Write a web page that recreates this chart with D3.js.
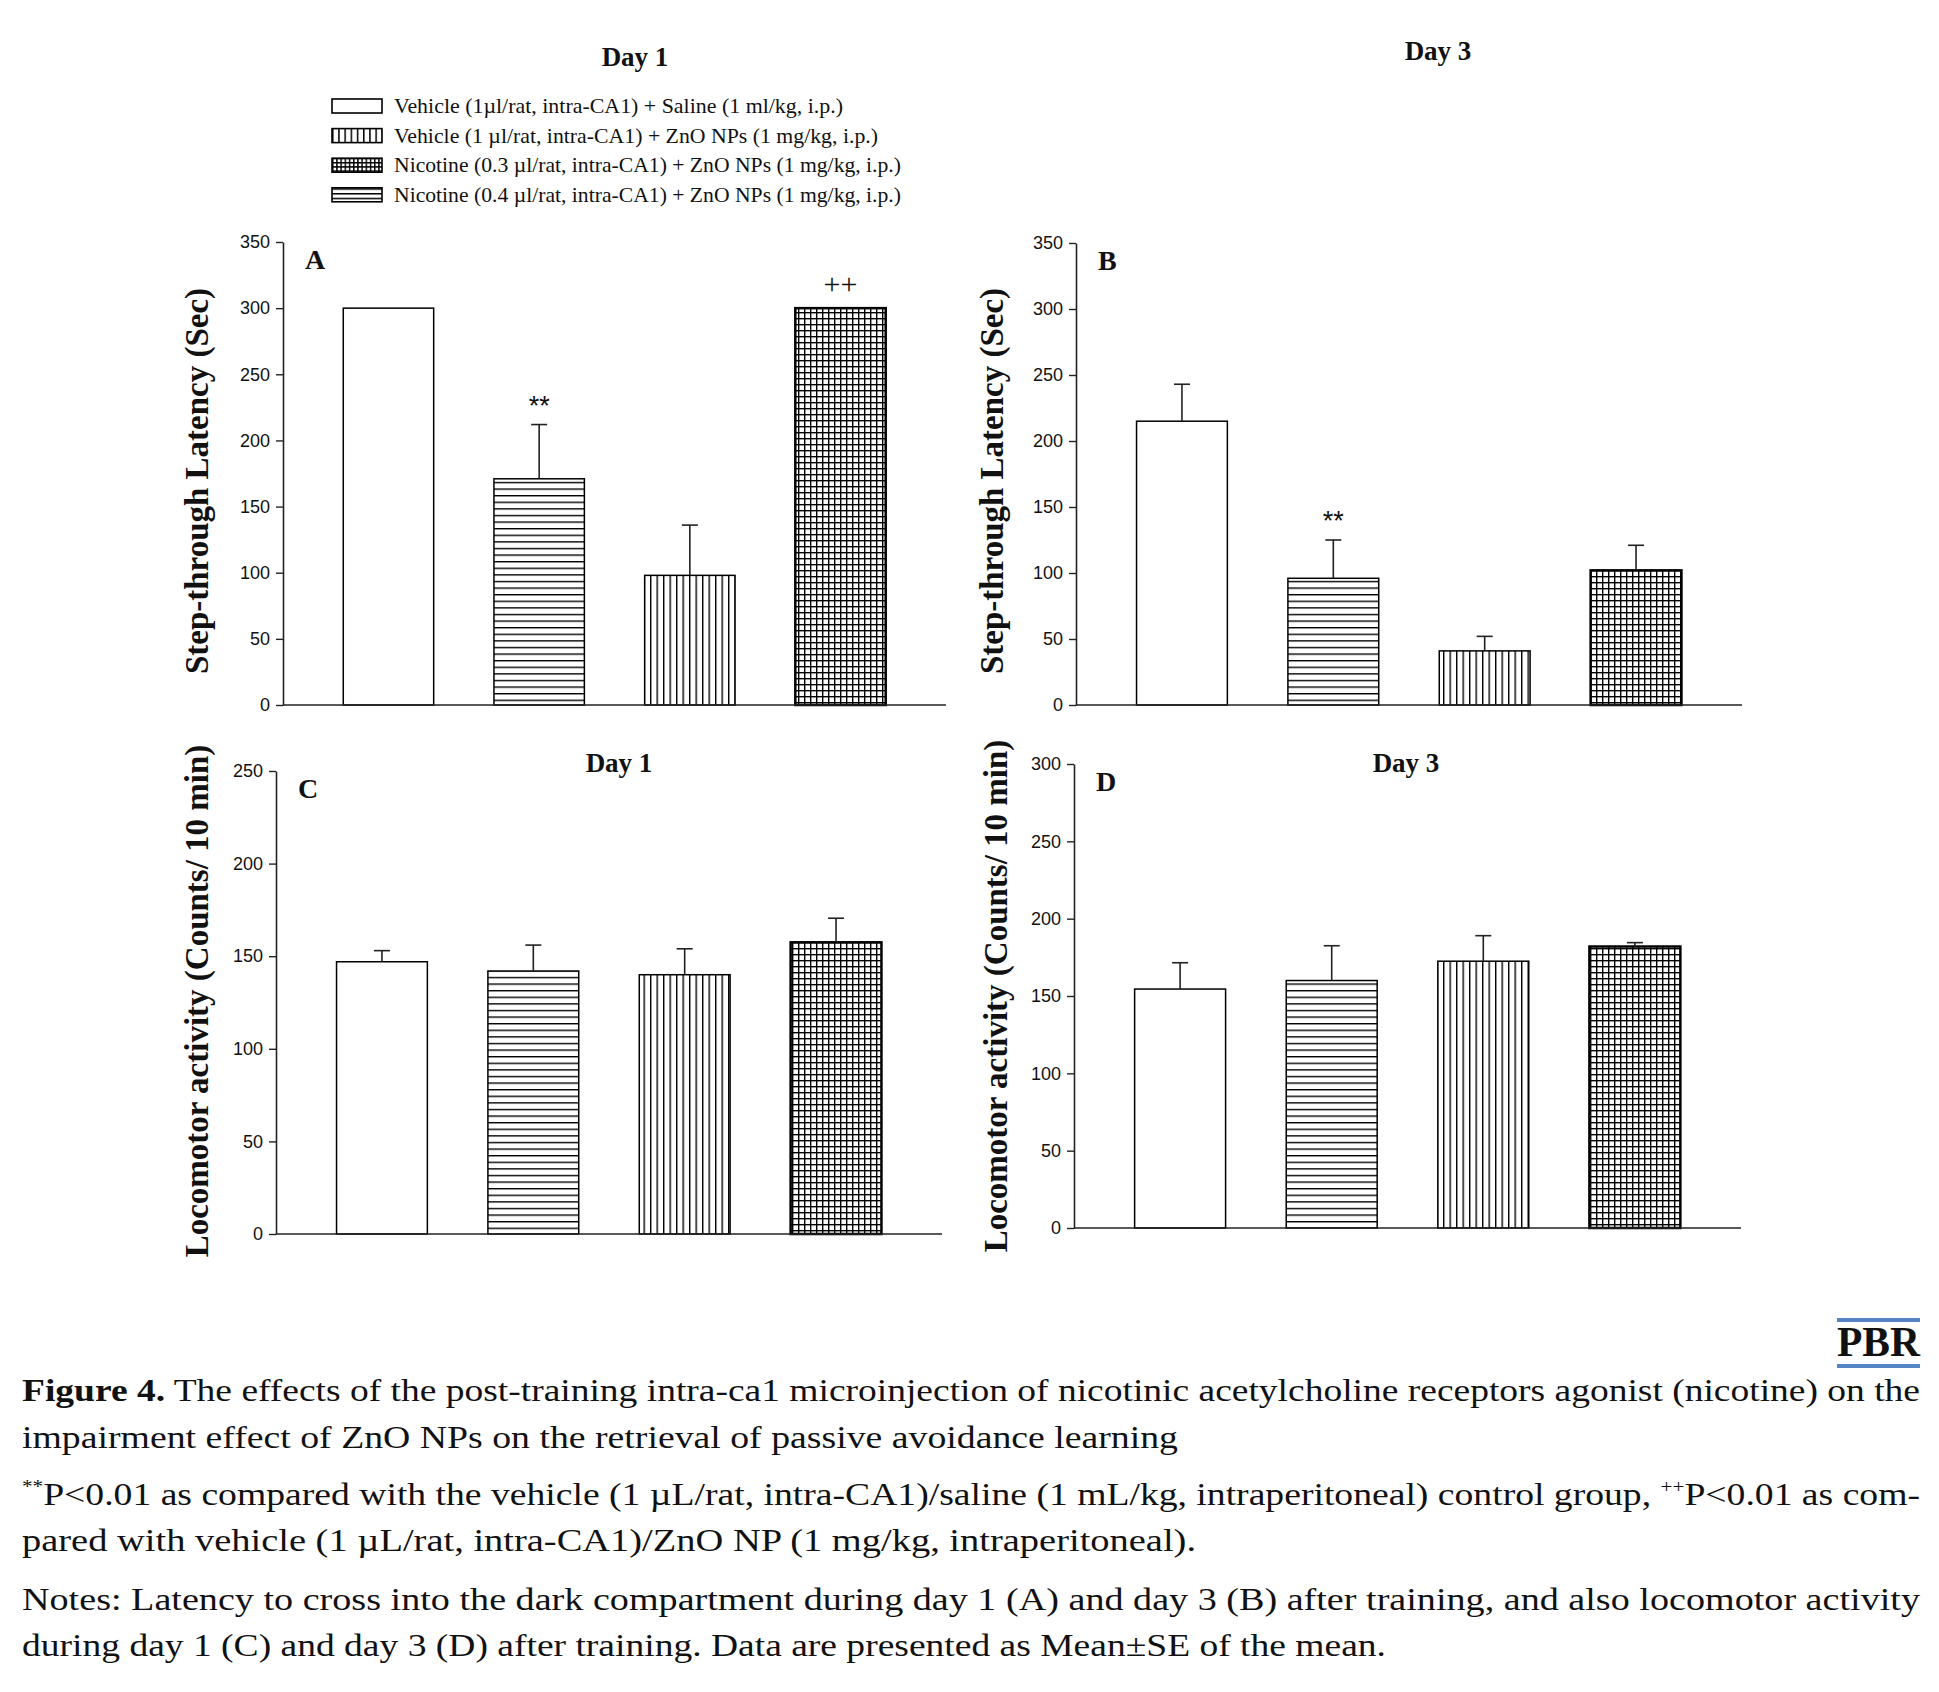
<!DOCTYPE html>
<html>
<head>
<meta charset="utf-8">
<script src="https://cdn.jsdelivr.net/npm/d3@7"></script>
<style>
  body { margin: 0; background: #fff; }
  text { fill: #111; }
</style>
</head>
<body>
<div id="figure"></div>
<script>
// Figure 4: step-through latency (A, B) and locomotor activity (C, D)

// ---- data ----
const GROUPS = ["Veh+Sal", "Veh+ZnO", "Nic0.3+ZnO", "Nic0.4+ZnO"];

const A_MEAN = [300, 171, 98, 300];
const A_SE   = [0, 41, 38, 0];
const A_MARK = ["", "**", "", "++"];

const B_MEAN = [215, 96, 41, 102];
const B_SE   = [28, 29, 11, 19];
const B_MARK = ["", "**", "", ""];

const C_MEAN = [147, 142, 140, 157.5];
const C_SE   = [6, 14, 14, 13];

const D_MEAN = [154.5, 160, 172.5, 182];
const D_SE   = [17, 22.5, 16.5, 2.5];

const LATENCY_TICKS = [0, 50, 100, 150, 200, 250, 300, 350];
const LOCO_C_TICKS  = [0, 50, 100, 150, 200, 250];
const LOCO_D_TICKS  = [0, 50, 100, 150, 200, 250, 300];

const LEGEND_LABELS = [
  "Vehicle (1\u00b5l/rat, intra-CA1) + Saline (1 ml/kg, i.p.)",
  "Vehicle (1 \u00b5l/rat, intra-CA1) + ZnO NPs (1 mg/kg, i.p.)",
  "Nicotine (0.3 \u00b5l/rat, intra-CA1) + ZnO NPs (1 mg/kg, i.p.)",
  "Nicotine (0.4 \u00b5l/rat, intra-CA1) + ZnO NPs (1 mg/kg, i.p.)"
];

// ---- frame ----
const FRAME_WIDTH = 1939;
const FRAME_HEIGHT = 1692;

const SVG = d3.select("#figure")
              .append("svg")
                .attr("width", FRAME_WIDTH)
                .attr("height", FRAME_HEIGHT)
                .style("background", "#fff");

const SERIF = "'Liberation Serif', 'Times New Roman', serif";
const SANS = "'Liberation Sans', Arial, sans-serif";

// ---- hatch patterns ----
const defs = SVG.append("defs");

function makePattern(id, w, h, paths, sw) {
  const p = defs.append("pattern")
                .attr("id", id)
                .attr("patternUnits", "userSpaceOnUse")
                .attr("width", w)
                .attr("height", h);
  p.append("rect").attr("width", w).attr("height", h).attr("fill", "#fff");
  paths.forEach((d) => {
    p.append("path").attr("d", d).attr("stroke", "#000")
     .attr("stroke-width", sw).attr("fill", "none");
  });
}

makePattern("hlines", 10, 6.6, ["M0,0.7H10"], 1.4);
makePattern("vlines", 6.5, 10, ["M0.7,0V10"], 1.4);
makePattern("grid", 6, 6, ["M0,0.7H6", "M0.7,0V6"], 1.4);
// smaller versions for the legend swatches
makePattern("lg-vlines", 6.2, 10, ["M0.7,0V10"], 1.6);
makePattern("lg-grid", 4.2, 4.2, ["M0,0.7H4.2", "M0.7,0V4.2"], 1.5);
makePattern("lg-hlines", 10, 4.7, ["M0,0.7H10"], 1.6);

const BAR_FILLS = ["#fff", "url(#hlines)", "url(#vlines)", "url(#grid)"];
const BAR_STROKES = [1.5, 1.5, 1.5, 2.5];

// ---- one bar panel ----
function drawPanel(cfg) {
  const X_SCALE = d3.scaleBand()
                    .domain(GROUPS)
                    .range([cfg.x0, cfg.x1])
                    .paddingInner(0.4)
                    .paddingOuter(0.4);

  const Y_SCALE = d3.scaleLinear()
                    .domain([0, cfg.max])
                    .range([cfg.yBottom, cfg.yTop]);

  const g = SVG.append("g");

  const rows = GROUPS.map((k, i) => ({
    key: k, i: i, mean: cfg.mean[i], se: cfg.se[i],
    mark: cfg.marks ? cfg.marks[i] : ""
  }));

  // bars
  g.selectAll(".bar")
   .data(rows)
   .enter()
   .append("rect")
     .attr("x", (d) => X_SCALE(d.key))
     .attr("y", (d) => Y_SCALE(d.mean))
     .attr("width", X_SCALE.bandwidth())
     .attr("height", (d) => Y_SCALE(0) - Y_SCALE(d.mean))
     .attr("fill", (d) => BAR_FILLS[d.i])
     .attr("stroke", "#000")
     .attr("stroke-width", (d) => BAR_STROKES[d.i]);

  // error bars (upper only)
  const err = rows.filter((d) => d.se > 0);
  g.selectAll(".err")
   .data(err)
   .enter()
   .append("line")
     .attr("x1", (d) => X_SCALE(d.key) + X_SCALE.bandwidth() / 2)
     .attr("x2", (d) => X_SCALE(d.key) + X_SCALE.bandwidth() / 2)
     .attr("y1", (d) => Y_SCALE(d.mean))
     .attr("y2", (d) => Y_SCALE(d.mean + d.se))
     .attr("stroke", "#222")
     .attr("stroke-width", 1.6);

  g.selectAll(".cap")
   .data(err)
   .enter()
   .append("line")
     .attr("x1", (d) => X_SCALE(d.key) + X_SCALE.bandwidth() / 2 - 8)
     .attr("x2", (d) => X_SCALE(d.key) + X_SCALE.bandwidth() / 2 + 8)
     .attr("y1", (d) => Y_SCALE(d.mean + d.se))
     .attr("y2", (d) => Y_SCALE(d.mean + d.se))
     .attr("stroke", "#222")
     .attr("stroke-width", 1.6);

  // significance marks
  g.selectAll(".mark")
   .data(rows.filter((d) => d.mark !== ""))
   .enter()
   .append("text")
     .attr("x", (d) => X_SCALE(d.key) + X_SCALE.bandwidth() / 2)
     .attr("y", (d) => Y_SCALE(d.mean + d.se) - (d.mark === "++" ? 14 : 10))
     .attr("text-anchor", "middle")
     .attr("font-family", (d) => d.mark === "++" ? SERIF : SANS)
     .attr("font-size", (d) => d.mark === "++" ? 30 : 27)
     .text((d) => d.mark);

  // y axis
  g.append("g")
   .attr("transform", "translate(" + cfg.x0 + ",0)")
   .call(d3.axisLeft(Y_SCALE).tickValues(cfg.ticks).tickSize(7)
           .tickSizeOuter(0).tickPadding(6))
   .call((a) => a.select(".domain").attr("stroke", "#222").attr("stroke-width", 1.6))
   .call((a) => a.selectAll(".tick line").attr("stroke", "#222").attr("stroke-width", 1.4))
   .selectAll("text")
     .attr("font-family", SANS)
     .attr("font-size", "18px")
     .attr("fill", "#222");

  // x axis baseline
  g.append("line")
   .attr("x1", cfg.x0)
   .attr("x2", cfg.x1)
   .attr("y1", Y_SCALE(0))
   .attr("y2", Y_SCALE(0))
   .attr("stroke", "#222")
   .attr("stroke-width", 1.6);

  // panel letter
  g.append("text")
   .attr("x", cfg.x0 + 22)
   .attr("y", cfg.yTop + 27)
   .attr("font-family", SERIF)
   .attr("font-weight", "bold")
   .attr("font-size", "28px")
   .text(cfg.letter);

  // y label
  g.append("text")
   .attr("transform", "translate(" + cfg.labelX + "," + cfg.labelY + ") rotate(-90)")
   .attr("text-anchor", "middle")
   .attr("font-family", SERIF)
   .attr("font-weight", "bold")
   .attr("font-size", "33px")
   .text(cfg.ylabel);

  // title
  if (cfg.title) {
    g.append("text")
     .attr("x", cfg.titleX)
     .attr("y", cfg.titleY)
     .attr("text-anchor", "middle")
     .attr("font-family", SERIF)
     .attr("font-weight", "bold")
     .attr("font-size", "27px")
     .text(cfg.title);
  }
}

drawPanel({ letter: "A", mean: A_MEAN, se: A_SE, marks: A_MARK, ticks: LATENCY_TICKS, max: 350,
            x0: 283, x1: 946, yTop: 242, yBottom: 705, labelX: 208, labelY: 481,
            ylabel: "Step-through Latency (Sec)" });
drawPanel({ letter: "B", mean: B_MEAN, se: B_SE, marks: B_MARK, ticks: LATENCY_TICKS, max: 350,
            x0: 1076, x1: 1742, yTop: 243, yBottom: 705, labelX: 1003, labelY: 481,
            ylabel: "Step-through Latency (Sec)" });
drawPanel({ letter: "C", mean: C_MEAN, se: C_SE, ticks: LOCO_C_TICKS, max: 250,
            x0: 276, x1: 942, yTop: 771, yBottom: 1234, labelX: 208, labelY: 1001,
            ylabel: "Locomotor activity (Counts/ 10 min)",
            title: "Day 1", titleX: 619, titleY: 772 });
drawPanel({ letter: "D", mean: D_MEAN, se: D_SE, ticks: LOCO_D_TICKS, max: 300,
            x0: 1074, x1: 1741, yTop: 764, yBottom: 1228, labelX: 1007, labelY: 996,
            ylabel: "Locomotor activity (Counts/ 10 min)",
            title: "Day 3", titleX: 1406, titleY: 772 });

// top titles
SVG.append("text").attr("x", 635).attr("y", 66).attr("text-anchor", "middle")
   .attr("font-family", SERIF).attr("font-weight", "bold").attr("font-size", "27px")
   .text("Day 1");
SVG.append("text").attr("x", 1438).attr("y", 60).attr("text-anchor", "middle")
   .attr("font-family", SERIF).attr("font-weight", "bold").attr("font-size", "27px")
   .text("Day 3");

// ---- legend ----
const LEGEND_FILLS = ["#fff", "url(#lg-vlines)", "url(#lg-grid)", "url(#lg-hlines)"];
const LEGEND_WIDTHS = [449, 484, 507, 507];
const legend = SVG.append("g").attr("transform", "translate(332,99)");

legend.selectAll(".sw")
  .data(LEGEND_LABELS)
  .enter()
  .append("rect")
    .attr("x", 0)
    .attr("y", (d, i) => i * 29.6)
    .attr("width", 50)
    .attr("height", 14)
    .attr("fill", (d, i) => LEGEND_FILLS[i])
    .attr("stroke", "#000")
    .attr("stroke-width", 1.6);

legend.selectAll(".lt")
  .data(LEGEND_LABELS)
  .enter()
  .append("text")
    .attr("x", 62)
    .attr("y", (d, i) => i * 29.6 + 14)
    .attr("font-family", SERIF)
    .attr("font-size", "21px")
    .attr("fill", "#222")
    .attr("textLength", (d, i) => LEGEND_WIDTHS[i])
    .attr("lengthAdjust", "spacingAndGlyphs")
    .text((d) => d);

// ---- journal tag ----
SVG.append("rect").attr("x", 1837).attr("y", 1318).attr("width", 83).attr("height", 4).attr("fill", "#5585c4");
SVG.append("rect").attr("x", 1837).attr("y", 1364).attr("width", 83).attr("height", 4).attr("fill", "#5585c4");
SVG.append("text").attr("x", 1920).attr("y", 1356).attr("text-anchor", "end")
   .attr("font-family", SERIF).attr("font-weight", "bold").attr("font-size", "42px")
   .attr("textLength", 83).attr("lengthAdjust", "spacingAndGlyphs")
   .text("PBR");

// ---- caption ----
const CAPTION_LINES = [
  [["b", "Figure 4."], ["n", " The effects of the post-training intra-ca1 microinjection of nicotinic acetylcholine receptors agonist (nicotine) on the"]],
  [["n", "impairment effect of ZnO NPs on the retrieval of passive avoidance learning"]],
  [["s", "**"], ["n", "P<0.01 as compared with the vehicle (1 \u00b5L/rat, intra-CA1)/saline (1 mL/kg, intraperitoneal) control group, "], ["s", "++"], ["n", "P<0.01 as com-"]],
  [["n", "pared with vehicle (1 \u00b5L/rat, intra-CA1)/ZnO NP (1 mg/kg, intraperitoneal)."]],
  [["n", "Notes: Latency to cross into the dark compartment during day 1 (A) and day 3 (B) after training, and also locomotor activity"]],
  [["n", "during day 1 (C) and day 3 (D) after training. Data are presented as Mean\u00b1SE of the mean."]]
];
const CAPTION_Y = [1401, 1448, 1505, 1551, 1610, 1656];
const CAPTION_W = [1898, 1156, 1898, 1174, 1898, 1364];

CAPTION_LINES.forEach((segs, i) => {
  const t = SVG.append("text")
               .attr("x", 22)
               .attr("y", CAPTION_Y[i])
               .attr("font-family", SERIF)
               .attr("font-size", "32px")
               .attr("fill", "#1a1a1a")
               .attr("textLength", CAPTION_W[i])
               .attr("lengthAdjust", "spacingAndGlyphs");
  segs.forEach((s, j) => {
    const ts = t.append("tspan").text(s[1]);
    if (s[0] === "b") ts.attr("font-weight", "bold");
    if (s[0] === "s") ts.attr("font-size", "18px").attr("dy", -12);
    // return to the baseline after a superscript
    if (s[0] === "n" && j > 0 && segs[j - 1][0] === "s") ts.attr("dy", 12);
  });
});
</script>
</body>
</html>
